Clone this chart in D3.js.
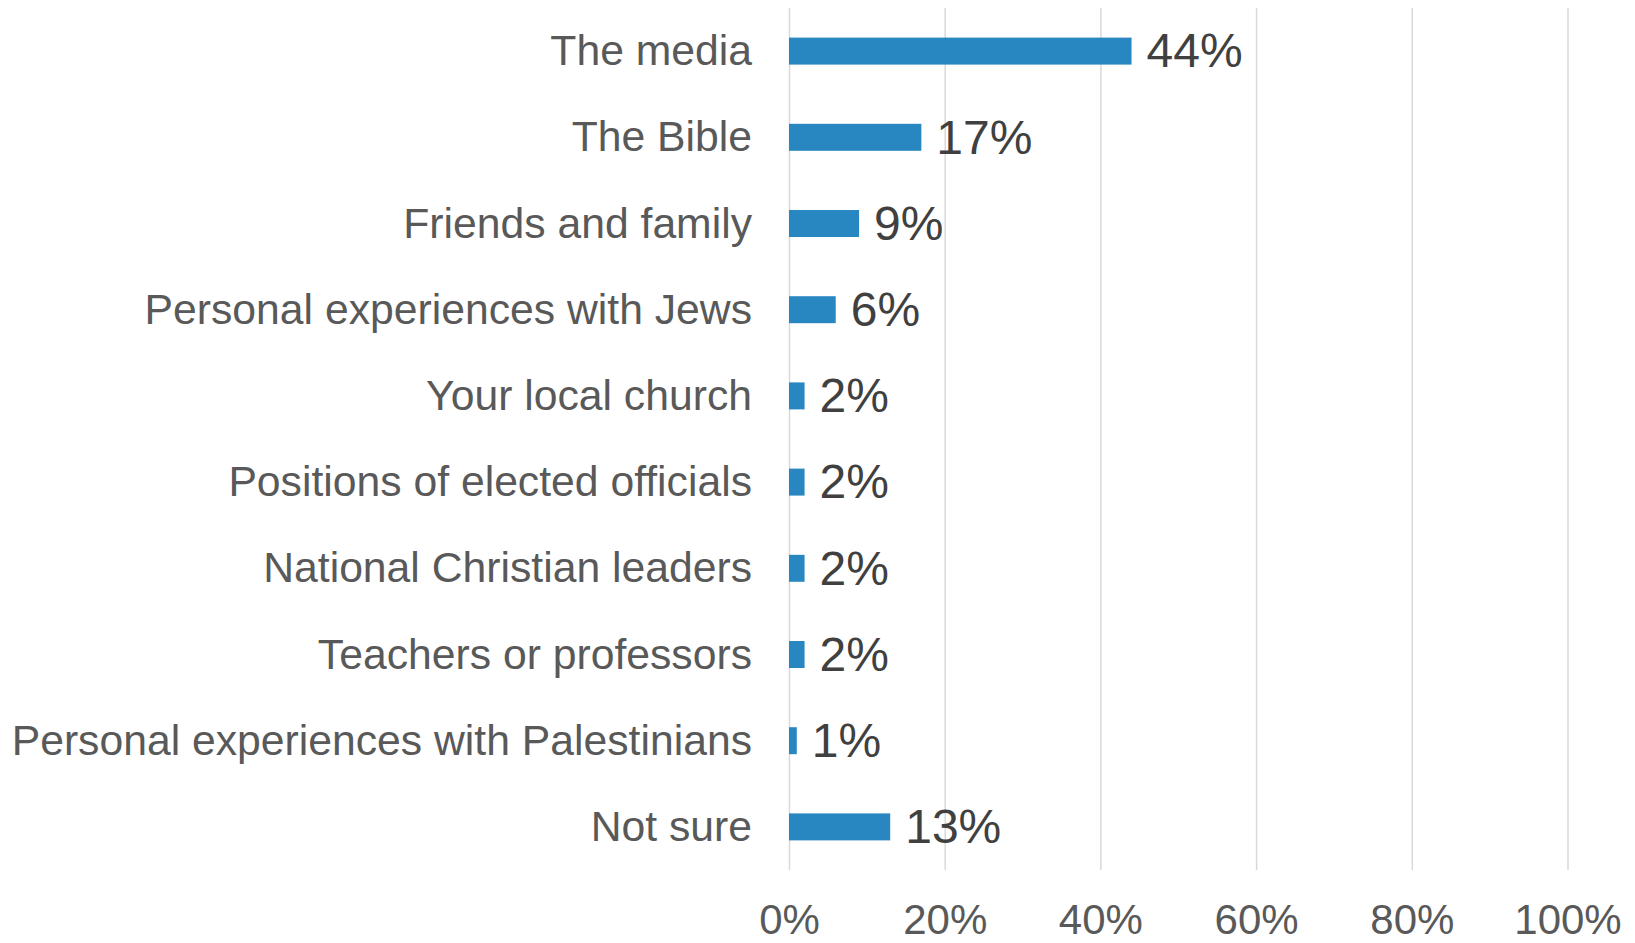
<!DOCTYPE html>
<html>
<head>
<meta charset="utf-8">
<script src="https://cdn.jsdelivr.net/npm/d3@7"></script>
<style>
  html, body { margin: 0; padding: 0; background: #ffffff; }
  svg { display: block; }
  text { font-family: "Liberation Sans", Arial, sans-serif; }
</style>
</head>
<body>
<script>
const categories = [
  "The media",
  "The Bible",
  "Friends and family",
  "Personal experiences with Jews",
  "Your local church",
  "Positions of elected officials",
  "National Christian leaders",
  "Teachers or professors",
  "Personal experiences with Palestinians",
  "Not sure"
];
const values = [0.44, 0.17, 0.09, 0.06, 0.02, 0.02, 0.02, 0.02, 0.01, 0.13];
const tickValues = [0, 0.2, 0.4, 0.6, 0.8, 1.0];

(function () {
  const W = 1635, H = 943;
  const plotLeft = 789, plotRight = 1567.5, plotTop = 8, plotBottom = 870;

  const svg = d3.select("body").append("svg").attr("width", W).attr("height", H);

  const x = d3.scaleLinear().domain([0, 1]).range([plotLeft, plotRight]);
  const y = d3.scaleBand().domain(categories).range([plotTop, plotBottom])
    .paddingInner(0.687).paddingOuter(0.3435);

  // gridlines
  const grid = svg.append("g").attr("transform", `translate(0,${plotBottom})`)
    .call(d3.axisBottom(x).tickValues(tickValues).tickSize(-(plotBottom - plotTop)).tickFormat(""));
  grid.select(".domain").remove();
  grid.selectAll(".tick line").attr("stroke", "#d9d9d9").attr("stroke-width", 1.5);

  // x tick labels
  const xa = svg.append("g").attr("transform", `translate(0,${plotBottom})`)
    .call(d3.axisBottom(x).tickValues(tickValues).tickSize(0).tickFormat(d3.format(".0%")));
  xa.select(".domain").remove();
  xa.selectAll(".tick text")
    .attr("y", 64).attr("dy", 0)
    .attr("fill", "#595959")
    .style("font-size", "42px")
    .style("font-family", "'Liberation Sans', Arial, sans-serif");

  // category labels
  const ya = svg.append("g").attr("transform", `translate(${plotLeft},0)`)
    .call(d3.axisLeft(y).tickSize(0).tickPadding(37));
  ya.select(".domain").remove();
  ya.selectAll(".tick text")
    .attr("fill", "#595959")
    .attr("dy", "0.33em")
    .style("font-size", "42.7px")
    .style("font-family", "'Liberation Sans', Arial, sans-serif");

  // bars
  svg.append("g").selectAll("rect").data(values).join("rect")
    .attr("x", x(0))
    .attr("y", (d, i) => y(categories[i]))
    .attr("width", d => x(d) - x(0))
    .attr("height", y.bandwidth())
    .attr("fill", "#2886c0");

  // value labels
  svg.append("g").selectAll("text").data(values).join("text")
    .attr("x", d => x(d) + 15)
    .attr("y", (d, i) => y(categories[i]) + y.bandwidth() / 2)
    .attr("dy", "0.34em")
    .attr("fill", "#404040")
    .style("font-size", "48px")
    .text(d => d3.format(".0%")(d));
})();
</script>
</body>
</html>
